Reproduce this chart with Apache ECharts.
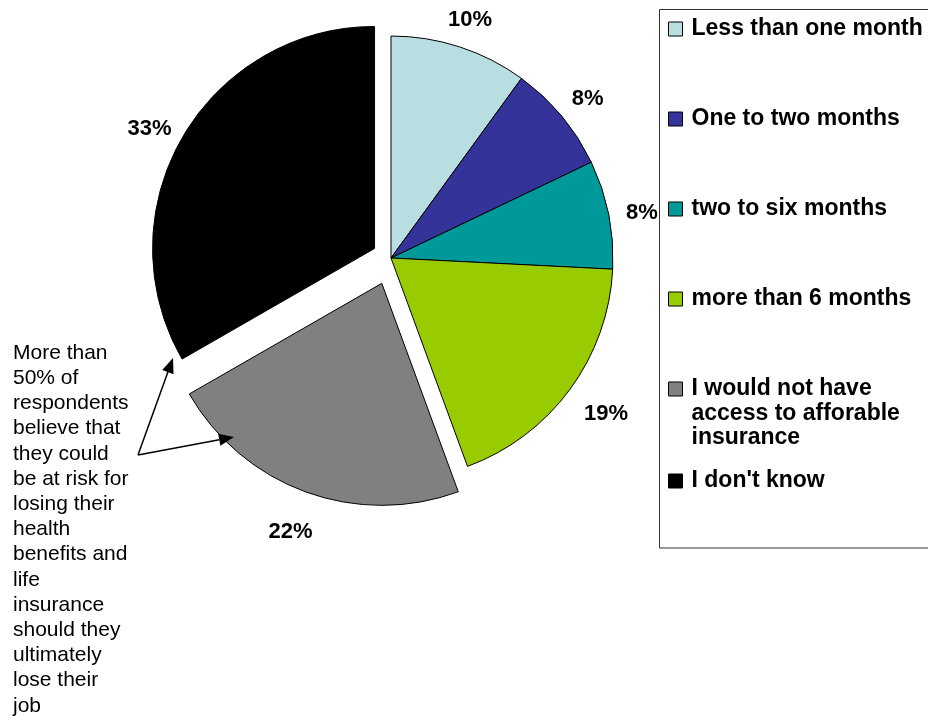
<!DOCTYPE html>
<html>
<head>
<meta charset="utf-8">
<script src="https://cdn.jsdelivr.net/npm/echarts@6/dist/echarts.min.js"></script>
<style>
html,body{margin:0;padding:0;background:#fff;}
#chart{width:928px;height:720px;}
</style>
</head>
<body>
<div id="chart"></div>
<script>
// ---- data ----
const categories = [
  'Less than one month',
  'One to two months',
  'two to six months',
  'more than 6 months',
  'I would not have\naccess to afforable\ninsurance',
  "I don't know"
];
const values = [10.0, 7.9, 7.9, 18.6, 22.3, 33.3];
const colors = ['#B8DEE2', '#333399', '#009999', '#99CC00', '#808080', '#000000'];
const annotation = 'More than\n50% of\nrespondents\nbelieve that\nthey could\nbe at risk for\nlosing their\nhealth\nbenefits and\nlife\ninsurance\nshould they\nultimately\nlose their\njob';

// ---- layout ----
const FONT = '"Liberation Sans", Arial, sans-serif';
const CENTER = [391, 258];
const R = 222;
const GRAY = 4, BLACK = 5;
const legendCenters = [29, 119, 209, 299, 389, 481];

const transparent = {color: 'rgba(0,0,0,0)', borderWidth: 0};

function mainSeries(visibleIdx, selIdx, offset) {
  return {
    type: 'pie', center: CENTER, radius: R, startAngle: 90, clockwise: true,
    selectedMode: 'single', selectedOffset: offset, silent: true,
    animation: false, emphasis: {disabled: true}, label: {show: false}, labelLine: {show: false},
    avoidLabelOverlap: false,
    data: categories.map((n, i) => ({
      name: n, value: values[i], selected: i === selIdx,
      itemStyle: visibleIdx.includes(i) ? {color: colors[i], borderColor: '#000', borderWidth: 1} : transparent
    }))
  };
}
// invisible ring whose inside labels sit at mid radius R + dist
function labelSeries(visibleIdx, selIdx, offset, dist, dy) {
  return {
    type: 'pie', center: CENTER, radius: [R + dist - 22, R + dist + 22], startAngle: 90, clockwise: true,
    selectedMode: 'single', selectedOffset: offset, silent: true,
    animation: false, emphasis: {disabled: true}, avoidLabelOverlap: false,
    labelLine: {show: false},
    labelLayout: {dy: dy},
    label: {
      show: true, position: 'inside', color: '#000', fontSize: 22, fontWeight: 'bold', fontFamily: FONT,
      formatter: p => Math.round(p.value) + '%'
    },
    data: categories.map((n, i) => ({
      name: n, value: values[i], selected: i === selIdx,
      itemStyle: transparent,
      label: {show: visibleIdx.includes(i)}
    }))
  };
}

const LH = 24.5;
const legends = categories.map((n, i) => {
  const lines = n.split('\n').length;
  const total = lines + (lines - 1);           // blank lines prepended so first line aligns with icon
  const h = total * LH;
  return {
    orient: 'vertical', left: 668, top: legendCenters[i] - h / 2,
    padding: 0, itemWidth: 14, itemHeight: 14, icon: 'rect', selectedMode: false,
    formatter: name => '\n'.repeat(lines - 1) + name,
    data: [{name: n, itemStyle: {color: colors[i], borderColor: '#000', borderWidth: 1}}],
    textStyle: {fontSize: 23, fontWeight: 'bold', fontFamily: FONT, color: '#000', lineHeight: LH,
      padding: [0, 0, 0, 4]}
  };
});

// arrows (annotation)
function arrow(x1, y1, x2, y2) {
  const ang = Math.atan2(y2 - y1, x2 - x1);
  const L = 15, W = 6;
  const bx = x2 - L * Math.cos(ang), by = y2 - L * Math.sin(ang);
  const px = -Math.sin(ang) * W, py = Math.cos(ang) * W;
  return [
    {type: 'line', z: 100, shape: {x1, y1, x2: bx, y2: by}, style: {stroke: '#000', lineWidth: 1.5}},
    {type: 'polygon', z: 100, shape: {points: [[x2, y2], [bx + px, by + py], [bx - px, by - py]]}, style: {fill: '#000'}}
  ];
}

const chart = echarts.init(document.getElementById('chart'), null, {renderer: 'canvas'});
chart.setOption({
  backgroundColor: '#fff',
  animation: false,
  legend: legends,
  graphic: [
    {type: 'rect', shape: {x: 659.5, y: 9.5, width: 300, height: 538.5}, style: {fill: 'none', stroke: '#333', lineWidth: 1}},
    {type: 'text', left: 13, top: 340.5, style: {text: annotation, fontSize: 21, fontFamily: FONT, fill: '#000', lineHeight: 25.2}},
    ...arrow(138, 455, 173, 358),
    ...arrow(138, 455, 234, 437)
  ],
  series: [
    mainSeries([0, 1, 2, 3, 4], GRAY, 27),
    mainSeries([5], BLACK, 19),
    labelSeries([0, 1, 2], -1, 27, 31, 5),
    labelSeries([3, 4], GRAY, 27, 42, -2),
    labelSeries([5], BLACK, 19, 35, 11)
  ]
});
</script>
</body>
</html>
